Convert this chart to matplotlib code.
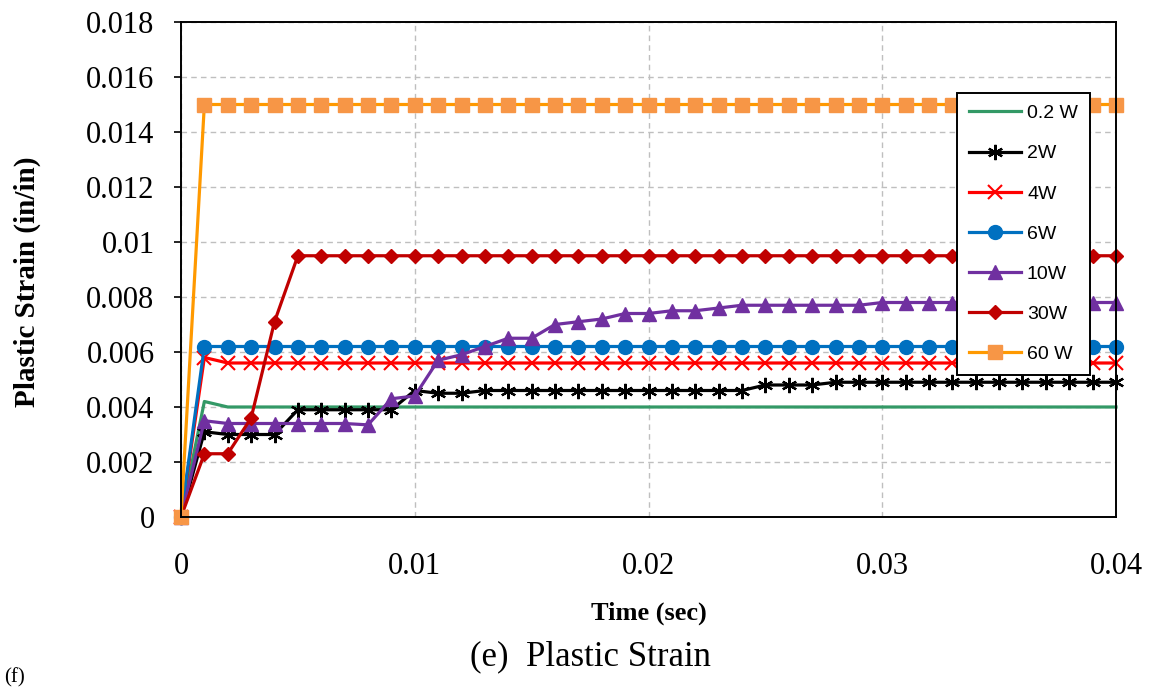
import numpy as np
import matplotlib
matplotlib.use("Agg")
import matplotlib.pyplot as plt
from matplotlib.ticker import FuncFormatter, MultipleLocator

# time steps (sec), one reading every 0.001 s
time = np.round(np.arange(41) * 0.001, 3)

w_0_2 = [0, 0.0042, 0.0040, 0.0040, 0.0040, 0.0040, 0.0040, 0.0040, 0.0040, 0.0040,
         0.0040, 0.0040, 0.0040, 0.0040, 0.0040, 0.0040, 0.0040, 0.0040, 0.0040, 0.0040,
         0.0040, 0.0040, 0.0040, 0.0040, 0.0040, 0.0040, 0.0040, 0.0040, 0.0040, 0.0040,
         0.0040, 0.0040, 0.0040, 0.0040, 0.0040, 0.0040, 0.0040, 0.0040, 0.0040, 0.0040,
         0.0040]
w_2 = [0, 0.0031, 0.0030, 0.0030, 0.0030, 0.0039, 0.0039, 0.0039, 0.0039, 0.0039,
       0.0046, 0.0045, 0.0045, 0.0046, 0.0046, 0.0046, 0.0046, 0.0046, 0.0046, 0.0046,
       0.0046, 0.0046, 0.0046, 0.0046, 0.0046, 0.0048, 0.0048, 0.0048, 0.0049, 0.0049,
       0.0049, 0.0049, 0.0049, 0.0049, 0.0049, 0.0049, 0.0049, 0.0049, 0.0049, 0.0049,
       0.0049]
w_4 = [0, 0.0058, 0.0056, 0.0056, 0.0056, 0.0056, 0.0056, 0.0056, 0.0056, 0.0056,
       0.0056, 0.0056, 0.0056, 0.0056, 0.0056, 0.0056, 0.0056, 0.0056, 0.0056, 0.0056,
       0.0056, 0.0056, 0.0056, 0.0056, 0.0056, 0.0056, 0.0056, 0.0056, 0.0056, 0.0056,
       0.0056, 0.0056, 0.0056, 0.0056, 0.0056, 0.0056, 0.0056, 0.0056, 0.0056, 0.0056,
       0.0056]
w_6 = [0, 0.0062, 0.0062, 0.0062, 0.0062, 0.0062, 0.0062, 0.0062, 0.0062, 0.0062,
       0.0062, 0.0062, 0.0062, 0.0062, 0.0062, 0.0062, 0.0062, 0.0062, 0.0062, 0.0062,
       0.0062, 0.0062, 0.0062, 0.0062, 0.0062, 0.0062, 0.0062, 0.0062, 0.0062, 0.0062,
       0.0062, 0.0062, 0.0062, 0.0062, 0.0062, 0.0062, 0.0062, 0.0062, 0.0062, 0.0062,
       0.0062]
w_10 = [0, 0.0035, 0.0034, 0.0034, 0.0034, 0.0034, 0.0034, 0.0034, 0.00335, 0.0043,
        0.0044, 0.0057, 0.0059, 0.0062, 0.0065, 0.0065, 0.0070, 0.0071, 0.0072, 0.0074,
        0.0074, 0.0075, 0.0075, 0.0076, 0.0077, 0.0077, 0.0077, 0.0077, 0.0077, 0.0077,
        0.0078, 0.0078, 0.0078, 0.0078, 0.0078, 0.0078, 0.0078, 0.0078, 0.0078, 0.0078,
        0.0078]
w_30 = [0, 0.0023, 0.0023, 0.0036, 0.0071, 0.0095, 0.0095, 0.0095, 0.0095, 0.0095,
        0.0095, 0.0095, 0.0095, 0.0095, 0.0095, 0.0095, 0.0095, 0.0095, 0.0095, 0.0095,
        0.0095, 0.0095, 0.0095, 0.0095, 0.0095, 0.0095, 0.0095, 0.0095, 0.0095, 0.0095,
        0.0095, 0.0095, 0.0095, 0.0095, 0.0095, 0.0095, 0.0095, 0.0095, 0.0095, 0.0095,
        0.0095]
w_60 = [0, 0.0150, 0.0150, 0.0150, 0.0150, 0.0150, 0.0150, 0.0150, 0.0150, 0.0150,
        0.0150, 0.0150, 0.0150, 0.0150, 0.0150, 0.0150, 0.0150, 0.0150, 0.0150, 0.0150,
        0.0150, 0.0150, 0.0150, 0.0150, 0.0150, 0.0150, 0.0150, 0.0150, 0.0150, 0.0150,
        0.0150, 0.0150, 0.0150, 0.0150, 0.0150, 0.0150, 0.0150, 0.0150, 0.0150, 0.0150,
        0.0150]

labels = ["0.2 W", "2W", "4W", "6W", "10W", "30W", "60 W"]

SERIF = "Liberation Serif"
SANS = "Liberation Sans"


def g_fmt(v, pos):
    return "0" if abs(v) < 1e-12 else f"{v:g}"


fig = plt.figure(figsize=(11.51, 6.87), dpi=100)
ax = fig.add_axes([181 / 1151, 1 - 517 / 687, 935 / 1151, 495 / 687])

asterisk = (6, 2, 0)
styles = [
    (w_0_2, dict(color="#339966", marker=None)),
    (w_2, dict(color="black", marker=asterisk, markersize=11, markeredgewidth=1.6)),
    (w_4, dict(color="#FF0000", marker="x", markersize=10, markeredgewidth=1.5)),
    (w_6, dict(color="#0070C0", marker="o", markersize=10)),
    (w_10, dict(color="#7030A0", marker="^", markersize=10)),
    (w_30, dict(color="#C00000", marker="D", markersize=7.5)),
    (w_60, dict(color="#FF9900", marker="s", markersize=9.5,
                markerfacecolor="#F79646", markeredgecolor="#F79646")),
]

for (vals, st), lab in zip(styles, labels):
    ax.plot(time, vals, linewidth=2.3, label=lab, clip_on=False, **st)

ax.set_xlim(0, 0.04)
ax.set_ylim(0, 0.018)
ax.xaxis.set_major_locator(MultipleLocator(0.01))
ax.yaxis.set_major_locator(MultipleLocator(0.002))
ax.xaxis.set_major_formatter(FuncFormatter(g_fmt))
ax.yaxis.set_major_formatter(FuncFormatter(g_fmt))

ax.grid(True, color="#BFBFBF", linestyle=(0, (4, 3)), linewidth=1.0)
ax.set_axisbelow(True)
for sp in ax.spines.values():
    sp.set_linewidth(1.4)
    sp.set_color("black")

ax.tick_params(axis="y", direction="out", length=5, width=1.2, pad=14)
ax.tick_params(axis="x", direction="out", length=0, pad=25)
for t in ax.get_xticklabels() + ax.get_yticklabels():
    t.set_fontfamily(SERIF)
    t.set_fontsize(22)

ax.set_xlabel("Time (sec)", fontfamily=SERIF, fontweight="bold", fontsize=19, va="center")
ax.xaxis.set_label_coords(0.5, (517 - 613) / 495)
ax.set_ylabel("Plastic Strain (in/in)", fontfamily=SERIF, fontweight="bold", fontsize=21,
              va="center")
ax.yaxis.set_label_coords((27 - 181) / 935, (517 - 282) / 495)

leg = ax.legend(loc="upper left", bbox_to_anchor=((957 - 181) / 935, (517 - 93) / 495),
                prop={"family": SANS, "size": 14}, frameon=True, fancybox=False,
                framealpha=1, edgecolor="black", borderaxespad=0, borderpad=0.6,
                labelspacing=1.16, handlelength=2.7, handletextpad=0.3)
leg.get_frame().set_linewidth(1.4)

fig.text(590 / 1151, 1 - 657 / 687, "(e)  Plastic Strain", fontfamily=SERIF, fontsize=25,
         ha="center", va="center")
fig.text(0.004, 1 - 668 / 687, "(f)", fontfamily=SERIF, fontsize=15, ha="left", va="top")

fig.savefig("out.png", dpi=100)
